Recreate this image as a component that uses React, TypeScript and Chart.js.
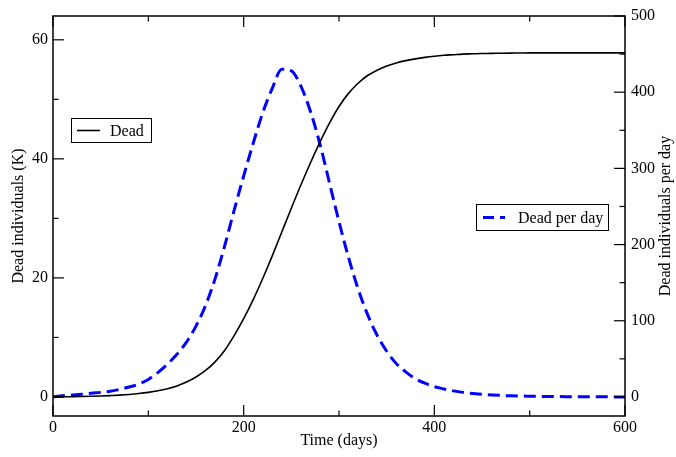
import React, { useEffect, useRef } from "react";
import { Chart, registerables } from "chart.js";

Chart.register(...registerables);

// ---------- data ----------
const days = [
  0, 10, 20, 30, 40, 50, 60, 70, 80, 90,
  100, 110, 120, 130, 140, 150, 160, 170, 180, 190,
  200, 210, 220, 230, 240, 250, 260, 270, 280, 290,
  300, 310, 320, 330, 340, 350, 360, 370, 380, 390,
  400, 410, 420, 430, 440, 450, 460, 470, 480, 490,
  500, 510, 520, 530, 540, 550, 560, 570, 580, 590, 600,
];

// cumulative dead (thousands)
const deadCumulative = [
  0, 0.02, 0.04, 0.07, 0.11, 0.16, 0.23, 0.31, 0.42, 0.57,
  0.77, 1.03, 1.38, 1.85, 2.5, 3.35, 4.45, 5.9, 7.8, 10.3,
  13.15, 16.35, 19.9, 23.7, 27.7, 31.7, 35.6, 39.3, 42.8, 46.0,
  48.8, 51.0, 52.7, 54.0, 54.9, 55.6, 56.1, 56.5, 56.8, 57.05,
  57.25, 57.4, 57.5, 57.6, 57.65, 57.7, 57.72, 57.75, 57.77, 57.78,
  57.8, 57.8, 57.8, 57.8, 57.8, 57.8, 57.8, 57.8, 57.8, 57.8, 57.8,
];

// dead per day
const deadPerDay = [
  0, 1.5, 2.5, 3.5, 5, 6, 7.5, 10, 13, 17,
  23, 32, 43, 56, 72, 93, 120, 155, 198, 245,
  290, 333, 373, 405, 430, 428, 408, 375, 332, 281,
  230, 183, 142, 108, 81, 60, 44, 33, 24, 18,
  13.5, 10.5, 8, 6, 4.5, 3.5, 2.7, 2, 1.5, 1.2,
  1, 0.8, 0.6, 0.5, 0.4, 0.3, 0.25, 0.2, 0.15, 0.1, 0.1,
];

const xTicks = [0, 200, 400, 600];
const xMinorTicks = [100, 300, 500];
const leftTicks = [0, 20, 40, 60];
const leftMinorTicks = [10, 30, 50];
const rightTicks = [0, 100, 200, 300, 400, 500];
const rightMinorTicks = [50, 150, 250, 350, 450];

const xTitle = "Time (days)";
const leftTitle = "Dead individuals (K)";
const rightTitle = "Dead individuals per day";
const seriesNames = ["Dead", "Dead per day"];

const FONT = "'Liberation Serif', 'Times New Roman', serif";
const BLUE = "#0000ff";
const DASH = [12, 6];

const frameAndTicks = {
  id: "frameAndTicks",
  afterDraw(chart: any) {
    const ctx = chart.ctx;
    const { left, right, top, bottom } = chart.chartArea;
    const sx = chart.scales.x;
    const sl = chart.scales.y;
    const sr = chart.scales.y1;
    ctx.save();
    ctx.strokeStyle = "#000";
    ctx.lineWidth = 1.5;
    ctx.strokeRect(left, top, right - left, bottom - top);
    ctx.lineWidth = 1.2;
    const seg = (x1: number, y1: number, x2: number, y2: number) => {
      ctx.beginPath();
      ctx.moveTo(x1, y1);
      ctx.lineTo(x2, y2);
      ctx.stroke();
    };
    const MAJ = 11;
    const MIN = 5.5;
    xTicks.forEach((v) => {
      const p = sx.getPixelForValue(v);
      seg(p, bottom, p, bottom - MAJ);
      seg(p, top, p, top + MAJ);
    });
    xMinorTicks.forEach((v) => {
      const p = sx.getPixelForValue(v);
      seg(p, bottom, p, bottom - MIN);
      seg(p, top, p, top + MIN);
    });
    leftTicks.forEach((v) => {
      const p = sl.getPixelForValue(v);
      seg(left, p, left + MAJ, p);
    });
    leftMinorTicks.forEach((v) => {
      const p = sl.getPixelForValue(v);
      seg(left, p, left + MIN, p);
    });
    rightTicks.forEach((v) => {
      const p = sr.getPixelForValue(v);
      seg(right, p, right - MAJ, p);
    });
    rightMinorTicks.forEach((v) => {
      const p = sr.getPixelForValue(v);
      seg(right, p, right - MIN, p);
    });

    // right axis title, reading bottom-to-top
    ctx.save();
    ctx.font = `16px ${FONT}`;
    ctx.fillStyle = "#000";
    ctx.textAlign = "center";
    ctx.textBaseline = "middle";
    ctx.translate(right + 41, (top + bottom) / 2);
    ctx.rotate(-Math.PI / 2);
    ctx.fillText(rightTitle, 0, 0);
    ctx.restore();

    // legends
    ctx.font = `16px ${FONT}`;
    ctx.textBaseline = "middle";
    ctx.textAlign = "left";

    // legend 1 (Dead)
    const b1x = left + 18, b1y = top + 102, b1w = 80, b1h = 24;
    ctx.fillStyle = "#fff";
    ctx.fillRect(b1x, b1y, b1w, b1h);
    ctx.strokeStyle = "#000";
    ctx.lineWidth = 1;
    ctx.strokeRect(b1x + 0.5, b1y + 0.5, b1w, b1h);
    const c1 = b1y + b1h / 2 + 0.5;
    ctx.lineWidth = 1.6;
    seg(b1x + 6, c1, b1x + 29, c1);
    ctx.fillStyle = "#000";
    ctx.fillText(seriesNames[0], b1x + 39, c1 + 1);

    // legend 2 (Dead per day)
    const b2x = right - 149, b2y = top + 188, b2w = 132, b2h = 26;
    ctx.fillStyle = "#fff";
    ctx.fillRect(b2x, b2y, b2w, b2h);
    ctx.strokeStyle = "#000";
    ctx.lineWidth = 1;
    ctx.strokeRect(b2x + 0.5, b2y + 0.5, b2w, b2h);
    const c2 = b2y + b2h / 2 + 0.5;
    ctx.strokeStyle = BLUE;
    ctx.lineWidth = 3;
    ctx.setLineDash([11, 6]);
    seg(b2x + 7, c2, b2x + 29, c2);
    ctx.setLineDash([]);
    ctx.fillStyle = "#000";
    ctx.fillText(seriesNames[1], b2x + 42, c2 + 1);
    ctx.restore();
  },
};

export default function App() {
  const ref = useRef<HTMLCanvasElement | null>(null);

  useEffect(() => {
    if (!ref.current) return;
    const tickFont = { family: FONT, size: 16 };
    const titleFont = { family: FONT, size: 16 };
    const chart = new Chart(ref.current, {
      type: "line",
      data: {
        datasets: [
          {
            label: seriesNames[0],
            data: days.map((d, i) => ({ x: d, y: deadCumulative[i] })),
            borderColor: "#000",
            borderWidth: 1.6,
            pointRadius: 0,
            cubicInterpolationMode: "monotone",
            yAxisID: "y",
          },
          {
            label: seriesNames[1],
            data: days.map((d, i) => ({ x: d, y: deadPerDay[i] })),
            borderColor: BLUE,
            borderWidth: 3,
            borderDash: DASH,
            pointRadius: 0,
            cubicInterpolationMode: "monotone",
            yAxisID: "y1",
          },
        ],
      },
      options: {
        animation: false,
        responsive: false,
        layout: { padding: { top: 16, left: 0, right: 0, bottom: 0 } },
        plugins: {
          legend: { display: false },
          tooltip: { enabled: false },
        },
        scales: {
          x: {
            type: "linear",
            position: "bottom",
            min: 0,
            max: 600,
            grid: { display: false, drawTicks: false },
            border: { display: false },
            ticks: { font: tickFont, color: "#000", padding: 2, maxRotation: 0, autoSkip: false },
            afterBuildTicks: (s: any) => {
              s.ticks = xTicks.map((v) => ({ value: v }));
            },
            afterFit: (s: any) => {
              s.height = 41;
            },
            title: {
              display: true,
              text: xTitle,
              font: titleFont,
              color: "#000",
              padding: { top: 0, bottom: 6.5 },
            },
          },
          y: {
            type: "linear",
            position: "left",
            min: -3.2,
            max: 64,
            grid: { display: false, drawTicks: false },
            border: { display: false },
            ticks: { font: tickFont, color: "#000", padding: 5, autoSkip: false },
            afterBuildTicks: (s: any) => {
              s.ticks = leftTicks.map((v) => ({ value: v }));
            },
            afterFit: (s: any) => {
              s.width = 53;
            },
            title: {
              display: true,
              text: leftTitle,
              font: titleFont,
              color: "#000",
              padding: { top: 9, bottom: 0 },
            },
          },
          y1: {
            type: "linear",
            position: "right",
            min: -25,
            max: 500,
            grid: { display: false, drawTicks: false },
            border: { display: false },
            ticks: { font: tickFont, color: "#000", padding: 6, autoSkip: false },
            afterBuildTicks: (s: any) => {
              s.ticks = rightTicks.map((v) => ({ value: v }));
            },
            afterFit: (s: any) => {
              s.width = 51;
            },
            title: { display: false },
          },
        },
      },
      plugins: [frameAndTicks],
    });
    return () => chart.destroy();
  }, []);

  return (
    <div style={{ position: "fixed", left: 0, top: 0, width: 676, height: 457, background: "#fff" }}>
      <canvas ref={ref} width={676} height={457} />
    </div>
  );
}
